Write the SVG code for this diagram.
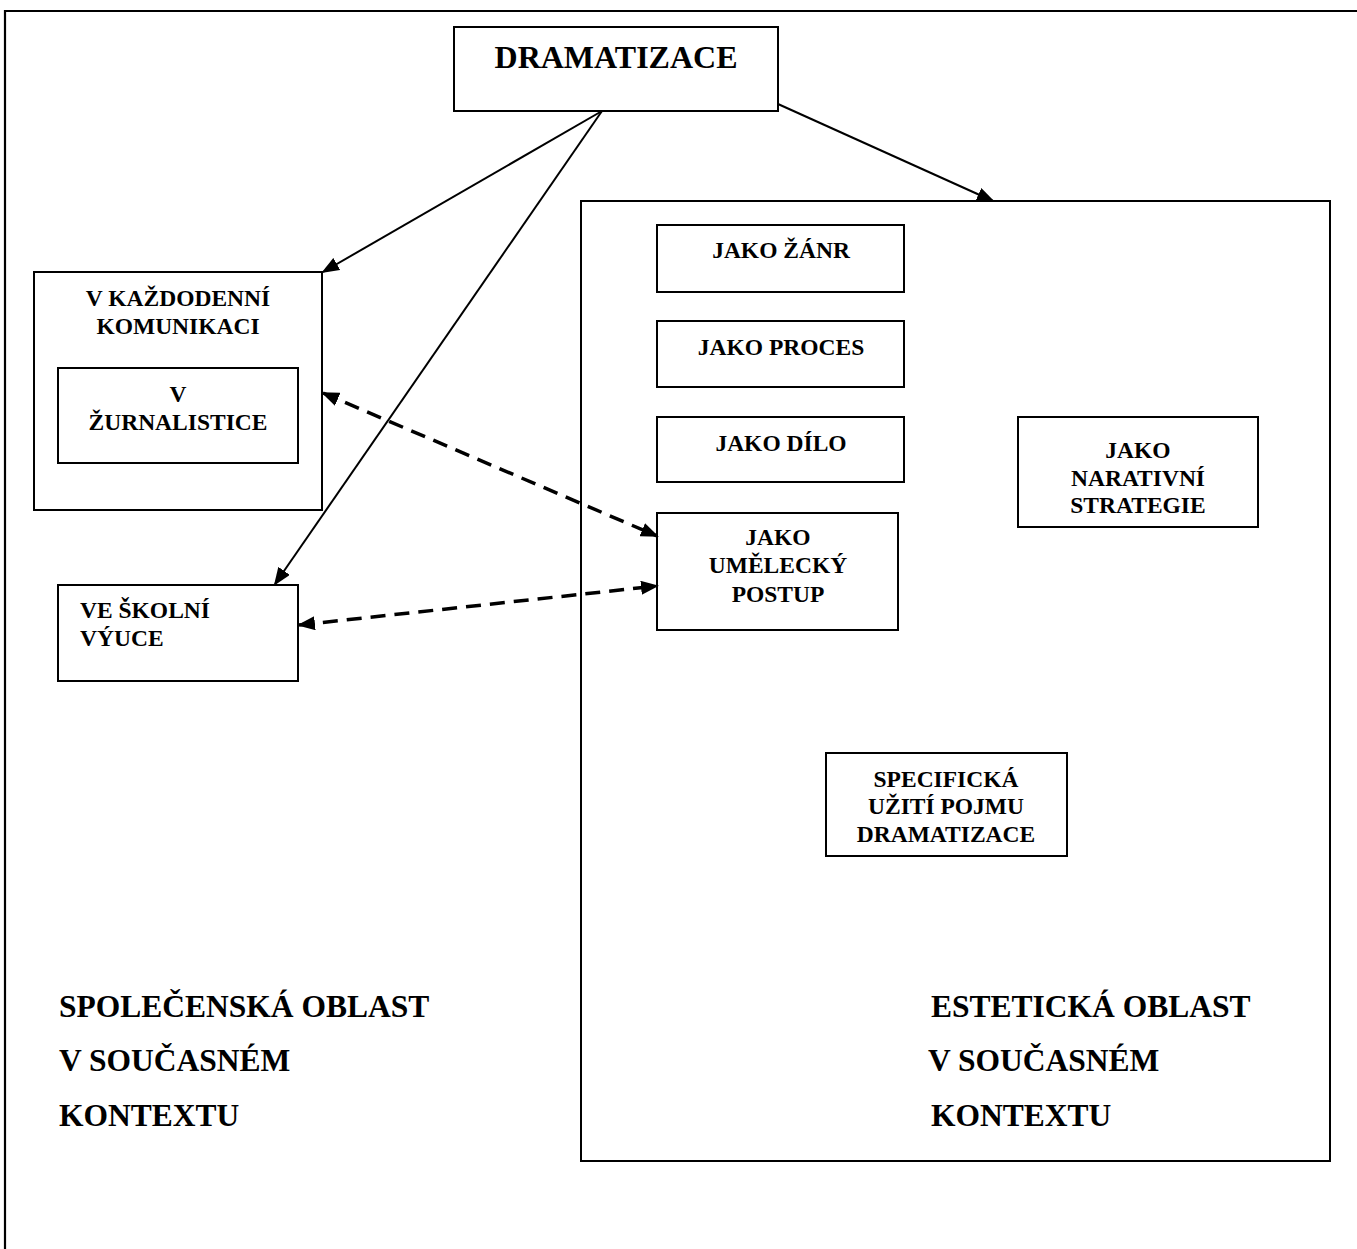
<svg xmlns="http://www.w3.org/2000/svg" width="1357" height="1249" viewBox="0 0 1357 1249">
  <style>
    .box { fill: #ffffff; stroke: #000000; stroke-width: 2; }
    .frame { fill: none; stroke: #000000; stroke-width: 2.2; }
    .t { font-family: "Liberation Serif", "Times New Roman", serif; font-weight: bold; fill: #000000; }
    .s { font-size: 23.5px; }
    .m { text-anchor: middle; }
    .big { font-size: 31.5px; }
    .solid { fill: none; stroke: #000000; stroke-width: 2; }
    .dash { fill: none; stroke: #000000; stroke-width: 3.5; stroke-dasharray: 15 9; }
  </style>
  <defs>
    <marker id="ah" markerUnits="userSpaceOnUse" markerWidth="18" markerHeight="14" viewBox="0 0 18 14" refX="16" refY="7" orient="auto-start-reverse">
      <path d="M0,0 L18,7 L0,14 Z" fill="#000000"/>
    </marker>
  </defs>
  <rect width="1357" height="1249" fill="#ffffff"/>

  <g id="frame">
    <path class="frame" d="M5,1249 L5,11 L1357,11"/>
  </g>

  <g id="estetic-area">
    <rect class="box" x="581" y="201" width="749" height="960"/>
  </g>

  <g id="dramatizace">
    <rect class="box" x="454" y="27" width="324" height="84"/>
    <text class="t m" x="616" y="68" font-size="32">DRAMATIZACE</text>
  </g>

  <g id="kazdodenni">
    <rect class="box" x="34" y="272" width="288" height="238"/>
    <text class="t s m" x="178" y="306">V KAŽDODENNÍ</text>
    <text class="t s m" x="178" y="334">KOMUNIKACI</text>
  </g>

  <g id="zurnalistice">
    <rect class="box" x="58" y="368" width="240" height="95"/>
    <text class="t s m" x="178" y="402">V</text>
    <text class="t s m" x="178" y="430">ŽURNALISTICE</text>
  </g>

  <g id="skolni">
    <rect class="box" x="58" y="585" width="240" height="96"/>
    <text class="t s" x="80" y="618">VE ŠKOLNÍ</text>
    <text class="t s" x="80" y="646">VÝUCE</text>
  </g>

  <g id="zanr">
    <rect class="box" x="657" y="225" width="247" height="67"/>
    <text class="t s m" x="781" y="258">JAKO ŽÁNR</text>
  </g>

  <g id="proces">
    <rect class="box" x="657" y="321" width="247" height="66"/>
    <text class="t s m" x="781" y="355">JAKO PROCES</text>
  </g>

  <g id="dilo">
    <rect class="box" x="657" y="417" width="247" height="65"/>
    <text class="t s m" x="781" y="451">JAKO DÍLO</text>
  </g>

  <g id="umelecky">
    <rect class="box" x="657" y="513" width="241" height="117"/>
    <text class="t s m" x="778" y="545">JAKO</text>
    <text class="t s m" x="778" y="573">UMĚLECKÝ</text>
    <text class="t s m" x="778" y="602">POSTUP</text>
  </g>

  <g id="narativni">
    <rect class="box" x="1018" y="417" width="240" height="110"/>
    <text class="t s m" x="1138" y="458">JAKO</text>
    <text class="t s m" x="1138" y="486">NARATIVNÍ</text>
    <text class="t s m" x="1138" y="513">STRATEGIE</text>
  </g>

  <g id="specificka">
    <rect class="box" x="826" y="753" width="241" height="103"/>
    <text class="t s m" x="946" y="787">SPECIFICKÁ</text>
    <text class="t s m" x="946" y="814">UŽITÍ POJMU</text>
    <text class="t s m" x="946" y="842">DRAMATIZACE</text>
  </g>

  <g id="spolecenska-label">
    <text class="t big" x="59" y="1017">SPOLEČENSKÁ OBLAST</text>
    <text class="t big" x="59" y="1071">V SOUČASNÉM</text>
    <text class="t big" x="59" y="1126">KONTEXTU</text>
  </g>

  <g id="estetická-label">
    <text class="t big" x="931" y="1017">ESTETICKÁ OBLAST</text>
    <text class="t big" x="928" y="1071">V SOUČASNÉM</text>
    <text class="t big" x="931" y="1126">KONTEXTU</text>
  </g>

  <g id="connectors">
    <path class="solid" d="M602,111 L323,272" marker-end="url(#ah)"/>
    <path class="solid" d="M602,111 L275,584" marker-end="url(#ah)"/>
    <path class="solid" d="M778,104 L993,201" marker-end="url(#ah)"/>
    <path class="dash" d="M323,393 L657,536" marker-start="url(#ah)" marker-end="url(#ah)"/>
    <path class="dash" d="M299,625 L657,586" marker-start="url(#ah)" marker-end="url(#ah)"/>
  </g>
</svg>
